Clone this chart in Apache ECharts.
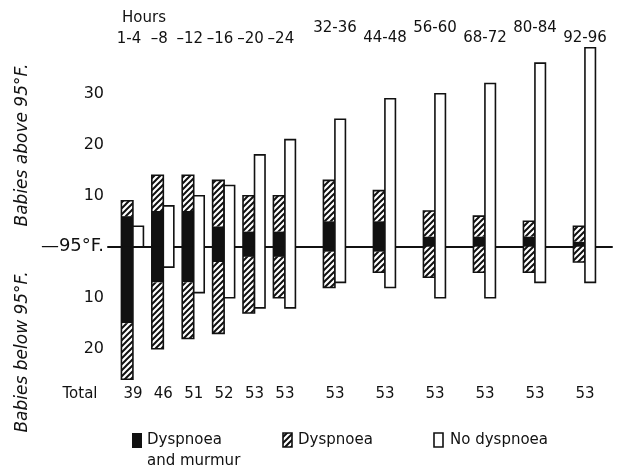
<!DOCTYPE html>
<html>
<head>
<meta charset="utf-8">
<script src="https://cdn.jsdelivr.net/npm/echarts@6/dist/echarts.min.js"></script>
<style>
html,body{margin:0;padding:0;background:#fff;}
#chart{width:617px;height:471px;}
</style>
</head>
<body>
<div id="chart"></div>
<script>
// ---- data ----
const hours = ['1-4', '–8', '–12', '–16', '–20', '–24', '32-36', '44-48', '56-60', '68-72', '80-84', '92-96'];
// babies above 95°F
const murmurAbove  = [6, 7, 7, 4, 3, 3, 5, 5, 2, 2, 2, 1];
const dyspAbove    = [3, 7, 7, 9, 7, 7, 8, 6, 5, 4, 3, 3];
const noDyspAbove  = [4, 8, 10, 12, 18, 21, 25, 29, 30, 32, 36, 39];
// babies below 95°F
const murmurBelow  = [15, 7, 7, 3, 2, 2, 1, 1, 0, 0, 0, 0];
const dyspBelow    = [11, 13, 11, 14, 11, 8, 7, 4, 6, 5, 5, 3];
const noDyspBelow  = [0, 4, 9, 10, 12, 12, 7, 8, 10, 10, 7, 7];
const totals       = [39, 46, 51, 52, 53, 53, 53, 53, 53, 53, 53, 53];
const yTickLabels  = {'30': '30', '20': '20', '10': '10', '0': '{b|—95°F.}', '-10': '10', '-20': '20'};

const FONT = 'DejaVu Sans';
const INK = '#111';

// horizontal slot: 4-hour groups are close together, later 12-hour groups wider apart
function slot(i) { return i < 6 ? i : 5 + (i - 5) * 1.645; }

// diagonal hatch pattern
const pc = document.createElement('canvas');
pc.width = 6; pc.height = 6;
const g = pc.getContext('2d');
g.fillStyle = '#fff'; g.fillRect(0, 0, 6, 6);
g.strokeStyle = INK; g.lineWidth = 2;
g.beginPath();
g.moveTo(-1, 7); g.lineTo(7, -1);
g.moveTo(-4, 4); g.lineTo(4, -4);
g.moveTo(2, 10); g.lineTo(10, 2);
g.stroke();
const hatch = {image: pc, repeat: 'repeat'};

const seriesData = hours.map((h, i) => [slot(i), murmurAbove[i], dyspAbove[i], noDyspAbove[i],
  murmurBelow[i], dyspBelow[i], noDyspBelow[i], totals[i], i]);

function renderItem(params, api) {
  const s = api.value(0);
  const mA = api.value(1), dA = api.value(2), nA = api.value(3);
  const mB = api.value(4), dB = api.value(5), nB = api.value(6);
  const tot = api.value(7), idx = api.value(8);
  const py = v => api.coord([s, v])[1];
  const base = api.coord([s, 0]);
  const cx = base[0], y0 = base[1];
  const wL = 11.5, wR = 10.5;
  const ch = [];
  function rect(x, yA, yB, w, style) {
    const top = Math.min(yA, yB), h = Math.abs(yB - yA);
    if (h <= 0) return;
    ch.push({type: 'rect', shape: {x: x, y: top, width: w, height: h}, style: style});
  }
  // left column: dyspnoea and murmur (black), dyspnoea (hatched)
  rect(cx - wL, py(mA), y0, wL, {fill: INK});
  rect(cx - wL, py(mA + dA), py(mA), wL, {fill: hatch});
  rect(cx - wL, y0, py(-mB), wL, {fill: INK});
  rect(cx - wL, py(-mB), py(-mB - dB), wL, {fill: hatch});
  rect(cx - wL, py(mA + dA), py(-mB - dB), wL, {fill: null, stroke: INK, lineWidth: 1.6});
  // right column: no dyspnoea (white)
  rect(cx, py(nA), py(-nB), wR, {fill: '#fff', stroke: INK, lineWidth: 1.6});
  // hours label
  ch.push({type: 'text', style: {text: hours[idx], x: cx + (idx < 6 ? -4 : 0),
    y: idx < 6 ? 39 : (idx % 2 === 0 ? 28 : 38), align: 'center', verticalAlign: 'middle',
    font: '15px ' + FONT, fill: INK}});
  // total label
  ch.push({type: 'text', style: {text: String(tot), x: cx, y: 394, align: 'center',
    verticalAlign: 'middle', font: '15px ' + FONT, fill: INK}});
  return {type: 'group', children: ch};
}

const chart = echarts.init(document.getElementById('chart'), null, {renderer: 'canvas'});
chart.setOption({
  animation: false,
  backgroundColor: '#fff',
  grid: {left: 108, right: 5, top: 42.7, bottom: 71.3, containLabel: false},
  xAxis: {
    type: 'value', min: -0.82, max: 15.76,
    axisLine: {show: true, onZero: true, lineStyle: {color: INK, width: 2}},
    axisTick: {show: false}, axisLabel: {show: false}, splitLine: {show: false}
  },
  yAxis: {
    type: 'value', min: -30, max: 40, interval: 10,
    axisLine: {show: false}, axisTick: {show: false}, splitLine: {show: false},
    axisLabel: {
      margin: 4, color: INK, fontFamily: FONT, fontSize: 16,
      rich: {b: {fontFamily: FONT, fontSize: 18, color: INK}},
      formatter: v => yTickLabels[String(v)] || ''
    }
  },
  series: [{
    type: 'custom',
    renderItem: renderItem,
    encode: {x: 0, y: 1},
    data: seriesData,
    z: 3
  }],
  graphic: [
    {type: 'text', left: 122, top: 11, style: {text: 'Hours', font: '15px ' + FONT, fill: INK}},
    {type: 'text', x: 80, y: 394, style: {text: 'Total', align: 'center', verticalAlign: 'middle', font: '15px ' + FONT, fill: INK}},
    {type: 'text', x: 23, y: 145, rotation: Math.PI / 2,
      style: {text: 'Babies above 95°F.', align: 'center', verticalAlign: 'middle', font: 'italic 17px ' + FONT, fill: INK}},
    {type: 'text', x: 23, y: 352, rotation: Math.PI / 2,
      style: {text: 'Babies below 95°F.', align: 'center', verticalAlign: 'middle', font: 'italic 17px ' + FONT, fill: INK}},
    // legend
    {type: 'rect', shape: {x: 132, y: 433, width: 10, height: 15}, style: {fill: INK}},
    {type: 'text', x: 147, y: 440, style: {text: 'Dyspnoea', verticalAlign: 'middle', font: '15px ' + FONT, fill: INK}},
    {type: 'text', x: 147, y: 461, style: {text: 'and murmur', verticalAlign: 'middle', font: '15px ' + FONT, fill: INK}},
    {type: 'rect', shape: {x: 283, y: 433, width: 9, height: 14}, style: {fill: hatch, stroke: INK, lineWidth: 1.6}},
    {type: 'text', x: 298, y: 440, style: {text: 'Dyspnoea', verticalAlign: 'middle', font: '15px ' + FONT, fill: INK}},
    {type: 'rect', shape: {x: 434, y: 433, width: 9, height: 14}, style: {fill: '#fff', stroke: INK, lineWidth: 1.6}},
    {type: 'text', x: 450, y: 440, style: {text: 'No dyspnoea', verticalAlign: 'middle', font: '15px ' + FONT, fill: INK}}
  ]
});
</script>
</body>
</html>
